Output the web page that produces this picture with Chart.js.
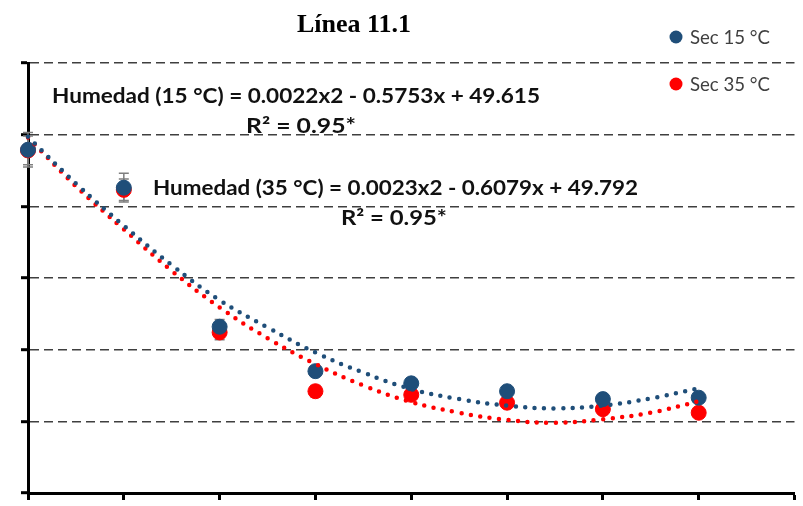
<!DOCTYPE html>
<html>
<head>
<meta charset="utf-8">
<script src="https://cdn.jsdelivr.net/npm/chart.js@4.4.1/dist/chart.umd.min.js"></script>
<style>
  html, body { margin: 0; padding: 0; background: #fff; }
  #wrap { width: 803px; height: 506px; position: relative; }
</style>
</head>
<body>
<div id="wrap"><canvas id="myChart"></canvas></div>
<script>
// muestreo (posiciones en el eje x, sin etiquetas visibles)
var days = [0, 1, 2, 3, 4, 5, 6, 7];
var sec15 = [47.9, 42.6, 23.2, 17.0, 15.3, 14.2, 13.1, 13.3];
var sec35 = [47.8, 42.3, 22.4, 14.2, 13.7, 12.6, 11.7, 11.2];
var err15 = [2.4, 2.0, 1.0, 0.6, 0.5, 0.5, 0.5, 0.5];
var err35 = [2.0, 1.5, 1.0, 0.8, 0.6, 0.6, 0.6, 0.6];

// lineas de tendencia
var trendX = [0, 0.5, 1, 1.5, 2, 2.5, 3, 3.5, 4, 4.5, 5, 5.5, 6, 6.5, 7];
var trend15 = [49.7, 43.2, 37.3, 31.8, 26.9, 23.1, 19.6, 16.8, 14.5, 13.1, 12.2, 11.8, 12.2, 13.2, 14.6];
var trend35 = [49.6, 42.8, 36.8, 31.0, 25.9, 21.6, 18.0, 15.0, 12.7, 11.2, 10.2, 9.8, 10.3, 11.2, 12.8];

var yTicks = [0, 10, 20, 30, 40, 50, 60];

var blue = "#1f4e79";
var red = "#ff0000";

function pts(xs, ys) {
    return xs.map(function (x, i) { return {x: x, y: ys[i]}; });
}

// texto ajustado a un ancho (la fuente original es mas ancha)
function fitText(ctx, str, x, y, w) {
    var m = ctx.measureText(str).width;
    ctx.save();
    ctx.translate(x, y);
    ctx.scale(w / m, 1);
    ctx.textAlign = 'left';
    ctx.fillText(str, 0, 0);
    ctx.restore();
}

var errorBars = {
    id: 'errorBars',
    beforeDatasetsDraw: function (chart) {
        var ctx = chart.ctx, xs = chart.scales.x, ys = chart.scales.y;
        ctx.save();
        ctx.strokeStyle = "#7f7f7f";
        ctx.lineWidth = 1.5;
        [[sec35, err35], [sec15, err15]].forEach(function (s) {
            days.forEach(function (d, i) {
                var px = xs.getPixelForValue(d);
                var top = ys.getPixelForValue(s[0][i] + s[1][i]);
                var bot = ys.getPixelForValue(s[0][i] - s[1][i]);
                ctx.beginPath();
                ctx.moveTo(px, top); ctx.lineTo(px, bot);
                ctx.moveTo(px - 5, top); ctx.lineTo(px + 5, top);
                ctx.moveTo(px - 5, bot); ctx.lineTo(px + 5, bot);
                ctx.stroke();
            });
        });
        ctx.restore();
    }
};

var labels = {
    id: 'labels',
    afterDraw: function (chart) {
        var ctx = chart.ctx;
        ctx.save();
        ctx.textBaseline = 'middle';

        ctx.fillStyle = "#000";
        ctx.font = "bold 26px 'Liberation Serif'";
        ctx.textAlign = 'center';
        ctx.fillText("Línea 11.1", 354, 25);

        // leyenda
        ctx.textAlign = 'left';
        ctx.font = "18.5px Lato";
        [[blue, "Sec 15 °C", 37], [red, "Sec 35 °C", 84]].forEach(function (l) {
            ctx.fillStyle = l[0];
            ctx.beginPath();
            ctx.arc(676, l[2], 6.5, 0, Math.PI * 2);
            ctx.fill();
            ctx.fillStyle = "#404040";
            fitText(ctx, l[1], 690, l[2] + 1, 80);
        });

        // ecuaciones
        ctx.fillStyle = "#111";
        ctx.font = "bold 20px Lato";
        fitText(ctx, "Humedad (15 °C) = 0.0022x2 - 0.5753x + 49.615", 52, 97, 488);
        fitText(ctx, "Humedad (35 °C) = 0.0023x2 - 0.6079x + 49.792", 153, 189, 485);
        fitText(ctx, "R² = 0.95*", 246, 127, 110);
        fitText(ctx, "R² = 0.95*", 341, 219, 106);
        ctx.restore();
    }
};

var context = document.getElementById('myChart').getContext('2d');

new Chart(context, {
    type: 'scatter',
    data: {
        datasets: [
            {
                label: 'tend 15', data: pts(trendX, trend15), showLine: true,
                borderColor: blue, borderWidth: 4.5, borderDash: [0, 9.5], borderCapStyle: 'round',
                pointRadius: 0, tension: 0.4, order: 0, clip: false
            },
            {
                label: 'tend 35', data: pts(trendX, trend35), showLine: true,
                borderColor: red, borderWidth: 4.5, borderDash: [0, 9.5], borderCapStyle: 'round',
                pointRadius: 0, tension: 0.4, order: 0, clip: false
            },
            {
                label: 'Sec 15 °C', data: pts(days, sec15),
                backgroundColor: blue, borderColor: blue, pointRadius: 7.5, order: 1, clip: false
            },
            {
                label: 'Sec 35 °C', data: pts(days, sec35),
                backgroundColor: red, borderColor: red, pointRadius: 7.5, order: 2, clip: false
            }
        ]
    },
    options: {
        responsive: true,
        maintainAspectRatio: false,
        animation: false,
        layout: {padding: {left: 21, right: 3, top: 63, bottom: 6}},
        plugins: {legend: {display: false}, tooltip: {enabled: false}},
        scales: {
            x: {
                type: 'linear', min: 0, max: 8,
                ticks: {display: false, stepSize: 1},
                grid: {drawOnChartArea: false, tickLength: 7, tickColor: "#000", tickWidth: 3},
                border: {color: "#000", width: 3}
            },
            y: {
                min: yTicks[0], max: yTicks[yTicks.length - 1],
                afterBuildTicks: function (axis) {
                    axis.ticks = yTicks.map(function (v) { return {value: v}; });
                },
                ticks: {display: false},
                grid: {
                    color: function (c) { return c.tick && c.tick.value === 0 ? "rgba(0,0,0,0)" : "#3f3f3f"; },
                    lineWidth: 1.4, tickLength: 7, tickColor: "#000", tickWidth: 3, tickBorderDash: []
                },
                border: {color: "#000", width: 3, dash: [9, 5]}
            }
        }
    },
    plugins: [errorBars, labels]
});
</script>
</body>
</html>
